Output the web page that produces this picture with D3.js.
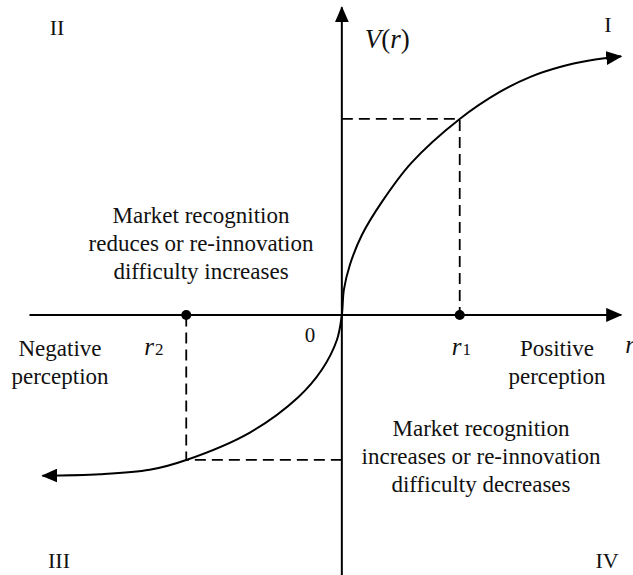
<!DOCTYPE html>
<html>
<head>
<meta charset="utf-8">
<script src="https://cdn.jsdelivr.net/npm/d3@7"></script>
<style>
  body { margin: 0; background: #fff; }
  svg { display: block; }
  text { font-family: "Liberation Serif", "Times New Roman", serif; fill: #111; }
</style>
</head>
<body>
<svg id="chart"></svg>
<script>
// value function V(r) (r1 = 1, V(r1) = 1)
const negR = [-2.54, -2.05, -1.63, -1.32, -0.78, -0.37, -0.17, -0.042];
const negV = [-0.82, -0.813, -0.79, -0.74, -0.60, -0.42, -0.28, -0.128];
const posR = [0, 0.017, 0.068, 0.17, 0.34, 0.59, 1.0, 1.34, 1.6, 1.85, 2.1, 2.37];
const posV = [0, 0.128, 0.255, 0.408, 0.577, 0.776, 1.0, 1.138, 1.215, 1.265, 1.298, 1.32];

// marked points
const markR = [1.0, -1.32];
const markV = [1.0, -0.74];
const markLabels = ["1", "2"];

const axisR = [-2.65, 2.37];
const axisV = [-1.33, 1.57];

const quadrants = ["I", "II", "III", "IV"];
const upperText = ["Market recognition", "reduces or re-innovation", "difficulty increases"];
const lowerText = ["Market recognition", "increases or re-innovation", "difficulty decreases"];
const negText = ["Negative", "perception"];
const posText = ["Positive", "perception"];

const width = 633, height = 575;

const svg = d3.select('#chart')
  .attr('width', width)
  .attr('height', height);

const xScale = d3.scaleLinear().domain([-2.9, 2.47]).range([0, width]);
const yScale = d3.scaleLinear().domain([1.607, -1.327]).range([0, height]);

// arrow head
svg.append('defs').append('marker')
  .attr('id', 'arrow')
  .attr('viewBox', '0 -7 16 14')
  .attr('refX', 15)
  .attr('refY', 0)
  .attr('markerWidth', 16)
  .attr('markerHeight', 14)
  .attr('markerUnits', 'userSpaceOnUse')
  .attr('orient', 'auto-start-reverse')
  .append('path')
  .attr('d', 'M0,-7L16,0L0,7Z')
  .attr('fill', '#000');

// axes
svg.append('line')
  .attr('x1', xScale(axisR[0])).attr('y1', yScale(0))
  .attr('x2', xScale(axisR[1])).attr('y2', yScale(0))
  .attr('stroke', '#000').attr('stroke-width', 2)
  .attr('marker-end', 'url(#arrow)');
svg.append('line')
  .attr('x1', xScale(0)).attr('y1', yScale(axisV[0]))
  .attr('x2', xScale(0)).attr('y2', yScale(axisV[1]))
  .attr('stroke', '#000').attr('stroke-width', 2)
  .attr('marker-end', 'url(#arrow)');

// dashed guides
markR.forEach((r, i) => {
  const v = markV[i];
  svg.append('path')
    .attr('d', `M${xScale(0)},${yScale(v)}L${xScale(r)},${yScale(v)}L${xScale(r)},${yScale(0)}`)
    .attr('fill', 'none')
    .attr('stroke', '#000')
    .attr('stroke-width', 1.8)
    .attr('stroke-dasharray', '11,6');
});

// curve, one path through the origin
const line = d3.line()
  .x(d => xScale(d[0]))
  .y(d => yScale(d[1]))
  .curve(d3.curveCatmullRom.alpha(0.5));

const curvePts = negR.map((r, i) => [r, negV[i]])
  .concat(posR.map((r, i) => [r, posV[i]]));

svg.append('path')
  .datum(curvePts)
  .attr('d', line)
  .attr('fill', 'none')
  .attr('stroke', '#000')
  .attr('stroke-width', 2)
  .attr('marker-start', 'url(#arrow)')
  .attr('marker-end', 'url(#arrow)');

// dots on r axis
svg.selectAll('circle.mark')
  .data(markR)
  .join('circle')
  .attr('class', 'mark')
  .attr('cx', d => xScale(d))
  .attr('cy', yScale(0))
  .attr('r', 5)
  .attr('fill', '#000');

// r1, r2 labels
markR.forEach((r, i) => {
  const t = svg.append('text')
    .attr('x', xScale(r) + (i === 0 ? -8 : -42))
    .attr('y', 355);
  t.append('tspan').attr('font-style', 'italic').attr('font-size', 25).text('r');
  t.append('tspan').attr('font-size', 17).attr('dx', 1).text(markLabels[i]);
});

// origin and axis titles
svg.append('text')
  .attr('x', xScale(0) - 37).attr('y', 342)
  .attr('font-size', 21)
  .text('0');

svg.append('text')
  .attr('x', xScale(axisR[1]) + 4).attr('y', 353)
  .attr('font-size', 25)
  .attr('font-style', 'italic')
  .text('r');

const vt = svg.append('text')
  .attr('x', xScale(0) + 23).attr('y', 48)
  .attr('font-size', 27);
vt.append('tspan').attr('font-style', 'italic').text('V');
vt.append('tspan').text('(');
vt.append('tspan').attr('font-style', 'italic').text('r');
vt.append('tspan').text(')');

// quadrant numerals
const quadPos = [[608, 32], [57, 35], [59, 568], [607, 568]];
svg.selectAll('text.quad')
  .data(quadrants)
  .join('text')
  .attr('class', 'quad')
  .attr('x', (d, i) => quadPos[i][0])
  .attr('y', (d, i) => quadPos[i][1])
  .attr('text-anchor', 'middle')
  .attr('font-size', 22)
  .text(d => d);

// multi-line labels
function block(lines, cx, y0, gap) {
  svg.append('g').selectAll('text')
    .data(lines)
    .join('text')
    .attr('x', cx)
    .attr('y', (d, i) => y0 + i * gap)
    .attr('text-anchor', 'middle')
    .attr('font-size', 23)
    .text(d => d);
}
block(upperText, 201, 223, 28);
block(lowerText, 481, 436, 28);
block(negText, 60, 356, 28);
block(posText, 557, 356, 28);
</script>
</body>
</html>
